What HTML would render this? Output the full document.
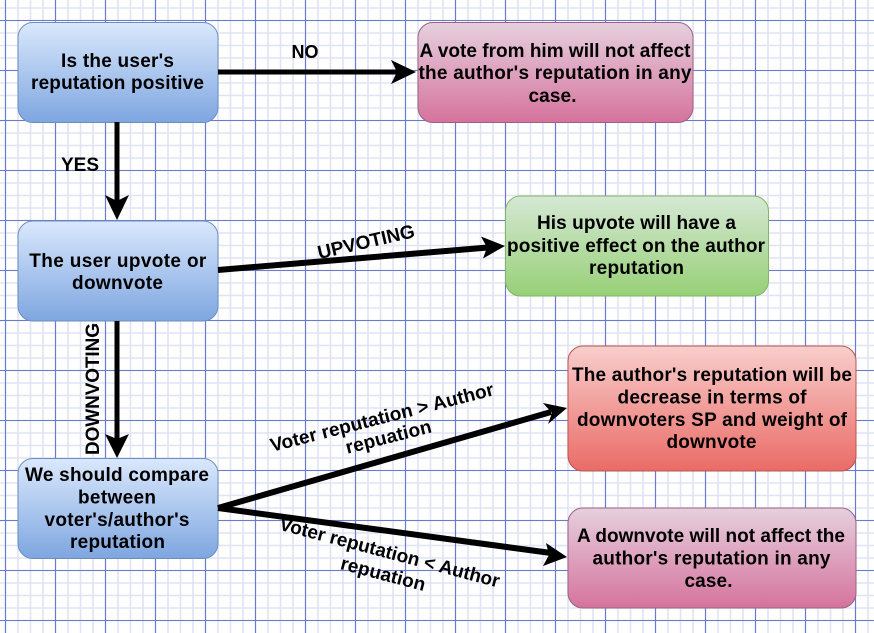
<!DOCTYPE html>
<html><head><meta charset="utf-8"><style>
html,body{margin:0;padding:0;background:#fff;width:874px;height:633px;overflow:hidden}
svg{display:block}
text{font-family:"Liberation Sans",sans-serif;font-weight:bold;font-size:19px;fill:#000;text-anchor:middle}
</style></head><body>
<svg width="874" height="633" viewBox="0 0 874 633" xmlns="http://www.w3.org/2000/svg">
<defs>
<linearGradient id="b" x1="0" y1="0" x2="0" y2="1"><stop offset="0" stop-color="#dae8fc"/><stop offset="1" stop-color="#7ea6e0"/></linearGradient>
<linearGradient id="p" x1="0" y1="0" x2="0" y2="1"><stop offset="0" stop-color="#e6d0de"/><stop offset="1" stop-color="#d5739d"/></linearGradient>
<linearGradient id="g" x1="0" y1="0" x2="0" y2="1"><stop offset="0" stop-color="#d5e8d4"/><stop offset="1" stop-color="#97d077"/></linearGradient>
<linearGradient id="r" x1="0" y1="0" x2="0" y2="1"><stop offset="0" stop-color="#f8cecc"/><stop offset="1" stop-color="#ea6b66"/></linearGradient>
</defs>
<rect width="874" height="633" fill="#fff"/>
<path fill="none" stroke="#dfe3f5" stroke-width="1.6" d="M5.5 0v633m12.5-633v633m12.5-633v633m12.5-633v633m12.5-633v633m12.5-633v633m12.5-633v633m12.5-633v633m12.5-633v633m12.5-633v633m12.5-633v633m12.5-633v633m12.5-633v633m12.5-633v633m12.5-633v633m12.5-633v633m12.5-633v633m12.5-633v633m12.5-633v633m12.5-633v633m12.5-633v633m12.5-633v633m12.5-633v633m12.5-633v633m12.5-633v633m12.5-633v633m12.5-633v633m12.5-633v633m12.5-633v633m12.5-633v633m12.5-633v633m12.5-633v633m12.5-633v633m12.5-633v633m12.5-633v633m12.5-633v633m12.5-633v633m12.5-633v633m12.5-633v633m12.5-633v633m12.5-633v633m12.5-633v633m12.5-633v633m12.5-633v633m12.5-633v633m12.5-633v633m12.5-633v633m12.5-633v633m12.5-633v633m12.5-633v633m12.5-633v633m12.5-633v633m12.5-633v633m12.5-633v633m12.5-633v633m12.5-633v633m12.5-633v633m12.5-633v633m12.5-633v633m12.5-633v633m12.5-633v633m12.5-633v633m12.5-633v633m12.5-633v633m12.5-633v633m12.5-633v633m12.5-633v633m12.5-633v633m12.5-633v633m12.5-633v633m12.5-633v633"/>
<path fill="none" stroke="#dfe3f5" stroke-width="1.6" d="M0 8h874m-874 12.5h874m-874 12.5h874m-874 12.5h874m-874 12.5h874m-874 12.5h874m-874 12.5h874m-874 12.5h874m-874 12.5h874m-874 12.5h874m-874 12.5h874m-874 12.5h874m-874 12.5h874m-874 12.5h874m-874 12.5h874m-874 12.5h874m-874 12.5h874m-874 12.5h874m-874 12.5h874m-874 12.5h874m-874 12.5h874m-874 12.5h874m-874 12.5h874m-874 12.5h874m-874 12.5h874m-874 12.5h874m-874 12.5h874m-874 12.5h874m-874 12.5h874m-874 12.5h874m-874 12.5h874m-874 12.5h874m-874 12.5h874m-874 12.5h874m-874 12.5h874m-874 12.5h874m-874 12.5h874m-874 12.5h874m-874 12.5h874m-874 12.5h874m-874 12.5h874m-874 12.5h874m-874 12.5h874m-874 12.5h874m-874 12.5h874m-874 12.5h874m-874 12.5h874m-874 12.5h874m-874 12.5h874m-874 12.5h874"/>
<path fill="none" stroke="#6a7acc" stroke-width="1.100" d="M5.5 0v633m50-633v633m50-633v633m50-633v633m50-633v633m50-633v633m50-633v633m50-633v633m50-633v633m50-633v633m50-633v633m50-633v633m50-633v633m50-633v633m50-633v633m50-633v633m50-633v633m50-633v633M0 20.500h874m-874 50h874m-874 50h874m-874 50h874m-874 50h874m-874 50h874m-874 50h874m-874 50h874m-874 50h874m-874 50h874m-874 50h874m-874 50h874m-874 50h874"/>

<rect x="18" y="22.5" width="200" height="100" rx="15" fill="url(#b)" stroke="#6c8ebf"/>
<rect x="418" y="22.5" width="275" height="100" rx="15" fill="url(#p)" stroke="#996185"/>
<rect x="18" y="221" width="200" height="100" rx="15" fill="url(#b)" stroke="#6c8ebf"/>
<rect x="505.500" y="196" width="263" height="100" rx="15" fill="url(#g)" stroke="#82b366"/>
<rect x="18" y="458.500" width="200" height="100" rx="15" fill="url(#b)" stroke="#6c8ebf"/>
<rect x="568" y="346" width="288" height="125" rx="15" fill="url(#r)" stroke="#b85450"/>
<rect x="568" y="508" width="288" height="100" rx="15" fill="url(#p)" stroke="#996185"/>

<g stroke="#000" fill="none">
<path stroke-width="5" d="M218 72H400"/>
<path stroke-width="5" d="M117 122V203"/>
<path stroke-width="6" d="M218 270L488 247.500"/>
<path stroke-width="5" d="M117 321V441"/>
<path stroke-width="6" d="M218 508L551 412"/>
<path stroke-width="6" d="M218 508L551 553"/>
</g>
<g fill="#000">
<polygon points="416,72 391,60 397,72 391,84"/>
<polygon points="117,220 105,195 117,201 129,195"/>
<polygon points="505,246 481,236.500 487,247.500 483,258.500"/>
<polygon points="117,458 105,434 117,439 129,434"/>
<polygon points="567,408 543,403 552,413 548,424"/>
<polygon points="567,557 546,543 549,555 543,566"/>
</g>

<text x="117.500" y="67" textLength="113">Is the user's</text>
<text x="117.500" y="89" textLength="173">reputation positive</text>
<text x="555" y="57" textLength="271">A vote from him will not affect</text>
<text x="555" y="79" textLength="273">the author's reputation in any</text>
<text x="552.500" y="102" textLength="48">case.</text>
<text x="117.800" y="267" textLength="177">The user upvote or</text>
<text x="117.500" y="289" textLength="91">downvote</text>
<text x="636.500" y="229" textLength="199">His upvote will have a</text>
<text x="636" y="252" textLength="258">positive effect on the author</text>
<text x="636.500" y="274" textLength="95">reputation</text>
<text x="117" y="481" textLength="184">We should compare</text>
<text x="117" y="503.500" textLength="78">between</text>
<text x="117" y="526" textLength="145">voter's/author's</text>
<text x="117.500" y="548" textLength="95">reputation</text>
<text x="712" y="381" textLength="280">The author's reputation will be</text>
<text x="712" y="403.500" textLength="189">decrease in terms of</text>
<text x="712" y="426" textLength="270">downvoters SP and weight of</text>
<text x="711.500" y="448" textLength="90">downvote</text>
<text x="711" y="542" textLength="268">A downvote will not affect the</text>
<text x="711.500" y="564.500" textLength="238">author's reputation in any</text>
<text x="708.500" y="587" textLength="48">case.</text>

<text style="font-size:18px" x="305" y="58">NO</text>
<text x="80" y="171">YES</text>
<text transform="translate(367.500 248) rotate(-13)" textLength="99">UPVOTING</text>
<text transform="translate(99 389) rotate(-90)" textLength="132">DOWNVOTING</text>
<text transform="translate(383.500 423.500) rotate(-14.300)" textLength="230">Voter reputation &gt; Author</text>
<text transform="translate(390 443) rotate(-14.300)" textLength="88">repuation</text>
<text transform="translate(388 558.500) rotate(14.800)" textLength="227">Voter reputation &lt; Author</text>
<text transform="translate(381.500 580) rotate(14.800)" textLength="87">repuation</text>
</svg>
</body></html>
